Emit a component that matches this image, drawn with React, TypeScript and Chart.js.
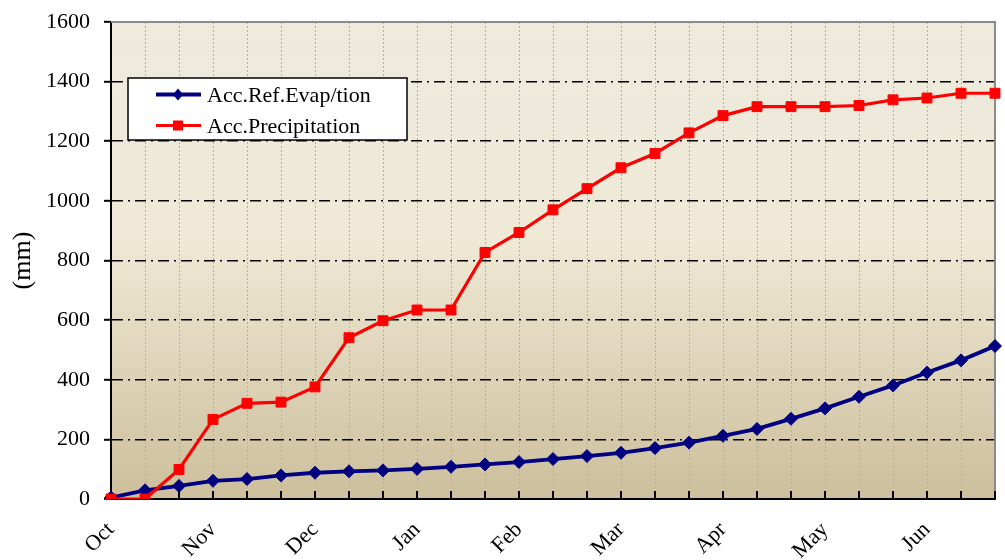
import React, { useEffect, useRef } from 'react';
import { Chart, registerables } from 'chart.js';

Chart.register(...registerables);

// Months shown on the x axis (each month has three 10-day periods)
const months = ['Oct', 'Nov', 'Dec', 'Jan', 'Feb', 'Mar', 'Apr', 'May', 'Jun'];
const dekads = months.flatMap((m) => [m + ' 1', m + ' 2', m + ' 3']);

// Accumulated reference evapotranspiration (mm)
const accRefEvap = [5, 29, 44, 61, 67, 79, 88, 93, 96, 101, 108, 116, 124, 134, 144, 155, 171, 189, 212, 235, 269, 304, 343, 381, 424, 465, 513];
// Accumulated precipitation (mm)
const accPrecip = [0, 0, 99, 267, 321, 325, 376, 541, 598, 634, 634, 827, 894, 970, 1041, 1111, 1159, 1228, 1286, 1316, 1316, 1316, 1320, 1339, 1345, 1361, 1361];

const yTicks = [0, 200, 400, 600, 800, 1000, 1200, 1400, 1600];

const FONT = '"Liberation Serif", "Times New Roman", serif';
const BLUE = '#000080';
const RED = '#ff0000';

const framePlugin = {
  id: 'frame',
  beforeDraw(chart: any) {
    const { ctx, chartArea: a } = chart;
    const g = ctx.createLinearGradient(0, a.top, 0, a.bottom);
    g.addColorStop(0, '#edeade');
    g.addColorStop(0.45, '#efe9d6');
    g.addColorStop(1, '#cdbf9c');
    ctx.save();
    ctx.fillStyle = g;
    ctx.fillRect(a.left, a.top, a.right - a.left, a.bottom - a.top);
    ctx.restore();
  },
  beforeDatasetsDraw(chart: any) {
    const { ctx, chartArea: a } = chart;
    const xs = chart.scales.x;
    ctx.save();
    // gray top / right frame
    ctx.strokeStyle = '#8a8a8a';
    ctx.lineWidth = 2;
    ctx.beginPath();
    ctx.moveTo(a.left, a.top);
    ctx.lineTo(a.right, a.top);
    ctx.lineTo(a.right, a.bottom);
    ctx.stroke();
    // inward x tick marks
    ctx.strokeStyle = '#000';
    ctx.lineWidth = 2;
    ctx.beginPath();
    for (let i = 0; i < dekads.length; i++) {
      const px = xs.getPixelForValue(i);
      ctx.moveTo(px, a.bottom);
      ctx.lineTo(px, a.bottom - 8);
    }
    ctx.stroke();
    ctx.restore();
  },
  afterDraw(chart: any) {
    const { ctx } = chart;
    const ds = chart.data.datasets;
    ctx.save();
    ctx.fillStyle = '#fff';
    ctx.fillRect(128, 78, 279, 62);
    ctx.strokeStyle = '#000';
    ctx.lineWidth = 1.5;
    ctx.strokeRect(128, 78, 279, 62);
    const rows = [94.5, 125.5];
    ds.forEach((d: any, i: number) => {
      const y = rows[i];
      ctx.strokeStyle = d.borderColor;
      ctx.lineWidth = d.borderWidth;
      ctx.beginPath();
      ctx.moveTo(156, y);
      ctx.lineTo(201, y);
      ctx.stroke();
      ctx.fillStyle = d.borderColor;
      ctx.beginPath();
      if (d.pointStyle === 'rectRot') {
        const r = 6;
        ctx.moveTo(178, y - r);
        ctx.lineTo(178 + r * 0.85, y);
        ctx.lineTo(178, y + r);
        ctx.lineTo(178 - r * 0.85, y);
        ctx.closePath();
      } else {
        ctx.rect(178 - 5, y - 5, 10, 10);
      }
      ctx.fill();
      ctx.fillStyle = '#000';
      ctx.font = '22px ' + FONT;
      ctx.textBaseline = 'alphabetic';
      ctx.textAlign = 'left';
      ctx.fillText(d.label, 207, y + 7.5);
    });
    ctx.restore();
  },
};

export default function App() {
  const ref = useRef<HTMLCanvasElement | null>(null);

  useEffect(() => {
    document.body.style.margin = '0';
    const canvas = ref.current;
    if (!canvas) return;
    const chart = new Chart(canvas, {
      type: 'line',
      data: {
        labels: dekads,
        datasets: [
          {
            label: 'Acc.Ref.Evap/tion',
            data: accRefEvap,
            borderColor: BLUE,
            backgroundColor: BLUE,
            borderWidth: 3.8,
            pointStyle: 'rectRot',
            pointRadius: 6.5,
            pointBorderWidth: 1,
            tension: 0,
            order: 1,
          },
          {
            label: 'Acc.Precipitation',
            data: accPrecip,
            borderColor: RED,
            backgroundColor: RED,
            borderWidth: 3.2,
            pointStyle: 'rect',
            pointRadius: 7,
            pointBorderWidth: 1,
            tension: 0,
            order: 0,
          },
        ],
      },
      options: {
        responsive: false,
        animation: false,
        layout: { padding: { left: 0, right: 10, top: 22, bottom: 0 } },
        plugins: {
          legend: { display: false },
          tooltip: { enabled: false },
        },
        scales: {
          x: {
            type: 'category',
            offset: false,
            afterFit: (s: any) => {
              s.height = 61;
              s.paddingLeft = 0;
              s.paddingRight = 0;
            },
            grid: {
              color: '#b3b0a6',
              lineWidth: 1,
              drawTicks: false,
            },
            border: { color: '#000', width: 2, dash: [2, 2] },
            ticks: {
              autoSkip: false,
              maxRotation: 45,
              minRotation: 45,
              padding: 18,
              color: '#000',
              font: { family: FONT, size: 22 },
              callback: (_v: any, i: number) => (i % 3 === 0 ? months[i / 3] : ''),
            },
          },
          y: {
            min: 0,
            max: 1600,
            afterFit: (s: any) => {
              s.width = 111;
              s.paddingTop = 0;
              s.paddingBottom = 0;
            },
            afterBuildTicks: (s: any) => {
              s.ticks = yTicks.map((v) => ({ value: v }));
            },
            grid: {
              color: (c: any) => (c.tick && c.tick.value === 1600 ? 'rgba(0,0,0,0)' : '#000'),
              lineWidth: 1.6,
              tickLength: 7,
              tickColor: '#000',
              tickWidth: 2,
            },
            border: { color: '#000', width: 2, dash: [11, 5, 2, 5] },
            ticks: {
              padding: 14,
              color: '#000',
              font: { family: FONT, size: 22 },
              callback: (v: any) => String(v),
            },
            title: {
              display: true,
              text: '(mm)',
              color: '#000',
              font: { family: FONT, size: 26 },
              padding: { top: 8, bottom: 0 },
            },
          },
        },
      },
      plugins: [framePlugin],
    });
    return () => chart.destroy();
  }, []);

  return <canvas ref={ref} width={1005} height={560} style={{ display: 'block' }} />;
}
